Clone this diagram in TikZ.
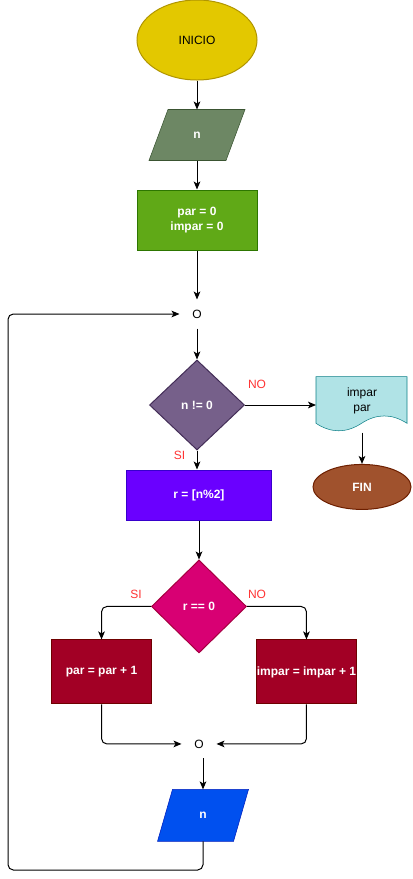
\documentclass[tikz,border=0pt]{standalone}
\usepackage{fontspec}
\setmainfont{Liberation Sans}
\usetikzlibrary{shapes.geometric, positioning, arrows.meta, backgrounds}

\definecolor{inicioF}{HTML}{E3C800}
\definecolor{inicioD}{HTML}{B09500}
\definecolor{leerF}{HTML}{6D8764}
\definecolor{leerD}{HTML}{3A5431}
\definecolor{initF}{HTML}{60A917}
\definecolor{initD}{HTML}{2D7600}
\definecolor{condF}{HTML}{76608A}
\definecolor{condD}{HTML}{432D57}
\definecolor{docF}{HTML}{B0E3E6}
\definecolor{docD}{HTML}{0E8088}
\definecolor{finF}{HTML}{A0522D}
\definecolor{finD}{HTML}{6D1F00}
\definecolor{calcF}{HTML}{6A00FF}
\definecolor{calcD}{HTML}{3700CC}
\definecolor{restoF}{HTML}{D80073}
\definecolor{restoD}{HTML}{A50040}
\definecolor{sumaF}{HTML}{A20025}
\definecolor{sumaD}{HTML}{6F0000}
\definecolor{leer2F}{HTML}{0050EF}
\definecolor{leer2D}{HTML}{001DBC}
\definecolor{lblred}{HTML}{FF3333}

\begin{document}
\begin{tikzpicture}[x=0.75pt, y=-0.75pt, on grid, line width=0.75pt,
    font=\fontsize{9}{11.25}\selectfont,
    every node/.style={inner sep=0pt},
    box/.style={rectangle, draw, text=white, font=\fontsize{9}{11.25}\selectfont\bfseries, align=center},
    io/.style={rectangle, text=white, font=\fontsize{9}{11.25}\selectfont\bfseries},
    cond/.style={diamond, draw, text=white, font=\fontsize{9}{11.25}\selectfont\bfseries, minimum width=71.25pt},
    union/.style={minimum width=25.5pt, minimum height=21pt},
    lbl/.style={text=lblred},
    arr/.style={-{Stealth[length=6pt, width=5pt, inset=1.5pt]}},
  ]
  \useasboundingbox (0,0) rectangle (412,879);

  \node[ellipse, draw=inicioD, fill=inicioF, minimum width=90pt, minimum height=60pt] (inicio) at (197,40) {INICIO};
  \node[io, minimum width=71.25pt, minimum height=37.5pt] (n1) [below=71.25pt of inicio] {n};
  \node[box, draw=initD, fill=initF, minimum width=90pt, minimum height=45pt] (init) [below=63.75pt of n1] {par = 0\\impar = 0};
  \node[union] (o1) [below=70.5pt of init] {O};
  \node[cond, draw=condD, fill=condF, minimum height=67.5pt] (cond1) [below=68.25pt of o1] {n != 0};
  \node[minimum width=68.25pt, minimum height=35pt, align=center] (doc) [right=123.75pt of cond1, yshift=3.45pt] {impar\\par};
  \coordinate (docb) at ([yshift=-6.2pt]doc.south);
  \node[ellipse, draw=finD, fill=finF, text=white, font=\fontsize{9}{11.25}\selectfont\bfseries,
        minimum width=73.5pt, minimum height=33.75pt] (fin) [below=64.9pt of doc] {FIN};
  \node[box, draw=calcD, fill=calcF, minimum width=108.75pt, minimum height=37.5pt] (calc) [below=67.5pt of cond1, xshift=1.5pt] {r = [n\%2]};
  \node[cond, draw=restoD, fill=restoF, minimum height=69.75pt] (cond2) [below=83.6pt of calc] {r == 0};
  \node[box, draw=sumaD, fill=sumaF, minimum width=75pt, minimum height=48pt] (par) [below left=49.1pt and 73.1pt of cond2] {par = par + 1};
  \node[box, draw=sumaD, fill=sumaF, minimum width=75pt, minimum height=48pt] (imp) [below right=49.1pt and 80.6pt of cond2] {impar = impar + 1};
  \node[union] (o2) [below=103.1pt of cond2] {O};
  \node[io, minimum width=67.5pt, minimum height=38.25pt] (n2) [below=53.6pt of o2, xshift=3pt] {n};
  \coordinate (lp) at (8,870);

  % etiquetas
  \node[lbl] (no1) [above right=15.75pt and 9pt of cond1.east, anchor=center] {NO};
  \node[lbl] (si1) [below left=3.75pt and 13.1pt of cond1.south, anchor=center] {SI};
  \node[lbl] (si2) [above left=9.4pt and 11.25pt of cond2.west, anchor=center] {SI};
  \node[lbl] (no2) [above right=9.4pt and 7.5pt of cond2.east, anchor=center] {NO};

  % formas de fondo: entradas y hoja de salida
  \begin{scope}[on background layer]
    \path[draw=leerD, fill=leerF]
      ([xshift=14.25pt]n1.north west) -- (n1.north east)
      -- ([xshift=-14.25pt]n1.south east) -- (n1.south west) -- cycle;
    \path[draw=leer2D, fill=leer2F]
      ([xshift=11.25pt]n2.north west) -- (n2.north east)
      -- ([xshift=-11.25pt]n2.south east) -- (n2.south west) -- cycle;
    \path[draw=docD, fill=docF, shift={(doc.north west)}]
      (0,0) -- (91,0) -- (91,46.75)
      .. controls (75.8,36.9) and (60.7,36.9) .. (45.5,46.75)
      .. controls (30.3,56.7) and (15.2,56.7) .. (0,46.75) -- cycle;
  \end{scope}

  \draw[arr] (inicio) -- (n1);
  \draw[arr] (n1) -- (init);
  \draw[arr] (init) -- (o1);
  \draw[arr] (o1) -- (cond1);
  \draw[arr] (cond1.east) -- (cond1.east -| doc.west);
  \draw[arr] (docb) -- (fin);
  \draw[arr] (cond1.south) -- (cond1.south |- calc.north);
  \draw[arr] (calc.south) -- (calc.south |- cond2.north);
  \draw[arr, rounded corners=4pt] (cond2.west) -| (par.north);
  \draw[arr, rounded corners=4pt] (cond2.east) -| (imp.north);
  \draw[arr, rounded corners=4pt] (par.south) |- (o2.west);
  \draw[arr, rounded corners=4pt] (imp.south) |- (o2.east);
  \draw[arr] (o2.south -| n2.north) -- (n2.north);
  \draw[arr, rounded corners=4pt] (n2.south) |- (lp) |- (o1.west);
\end{tikzpicture}
\end{document}
